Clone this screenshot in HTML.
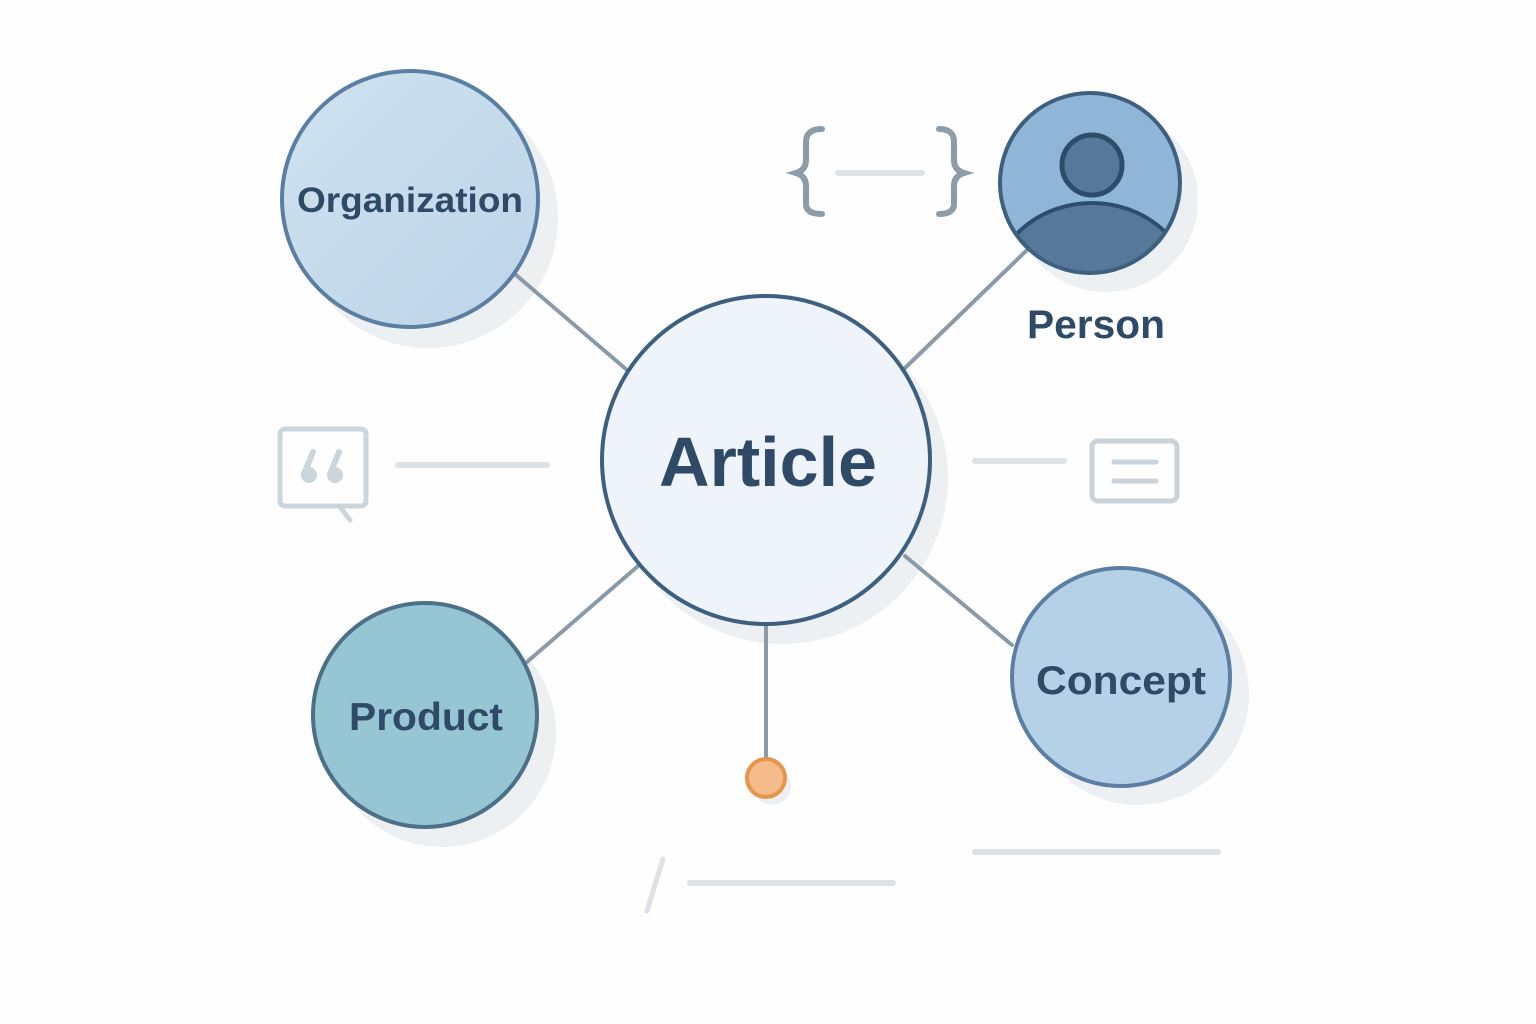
<!DOCTYPE html>
<html><head><meta charset="utf-8"><style>html,body{margin:0;padding:0;background:#fff}svg{display:block}</style></head>
<body>
<svg width="1536" height="1024" viewBox="0 0 1536 1024" xmlns="http://www.w3.org/2000/svg" font-family="Liberation Sans, sans-serif">
<rect width="1536" height="1024" fill="#fefefe"/>
<g fill="#e6e9ec" opacity="0.7">
<circle cx="428" cy="218" r="130"/>
<circle cx="1106" cy="200" r="92"/>
<circle cx="782" cy="478" r="166"/>
<circle cx="442" cy="733" r="114"/>
<circle cx="1138" cy="694" r="111"/>
<circle cx="772" cy="786" r="19"/>
</g>
<g stroke="#8a9aa9" stroke-width="4" stroke-linecap="round">
<line x1="516" y1="275" x2="627" y2="370"/>
<line x1="905" y1="368" x2="1027" y2="250"/>
<line x1="527" y1="662" x2="638" y2="566"/>
<line x1="905" y1="556" x2="1012" y2="645"/>
<line x1="766" y1="625" x2="766" y2="760"/>
</g>
<g stroke="#dde2e6" stroke-width="6" stroke-linecap="round" fill="none">
<line x1="398" y1="465" x2="547" y2="465"/>
<line x1="975" y1="461" x2="1064" y2="461"/>
<line x1="975" y1="852" x2="1218" y2="852"/>
<line x1="690" y1="883" x2="893" y2="883"/>
<line x1="647" y1="911" x2="663" y2="859" stroke-width="5"/>
<line x1="838" y1="173" x2="922" y2="173"/>
</g>
<g stroke="#8b9caa" stroke-width="6" fill="none" stroke-linecap="round">
<path d="M822 129 Q806 129 806 142 L806 160 Q806 170 796 173 Q806 176 806 186 L806 204 Q806 214 822 214"/>
<path d="M939 129 Q954 129 954 142 L954 160 Q954 170 964 173 Q954 176 954 186 L954 204 Q954 214 939 214"/>
</g>
<g stroke="#cbd5dc" stroke-width="5" fill="none" stroke-linecap="round">
<rect x="280" y="429" width="86" height="77" rx="5"/>
<line x1="340" y1="507" x2="350" y2="520"/>
</g>
<g fill="#cbd5dc">
<circle cx="309" cy="475" r="8"/><circle cx="335" cy="475" r="8"/>
</g>
<g stroke="#cbd5dc" stroke-width="6" stroke-linecap="round">
<line x1="304" y1="474" x2="313" y2="452"/><line x1="330" y1="474" x2="339" y2="452"/>
</g>
<g stroke="#cbd3da" stroke-width="5" fill="none" stroke-linecap="round">
<rect x="1092" y="441" width="85" height="60" rx="6"/>
<line x1="1114" y1="462" x2="1156" y2="462"/>
<line x1="1114" y1="481" x2="1156" y2="481"/>
</g>
<defs>
<linearGradient id="g1" x1="0" y1="0" x2="1" y2="1"><stop offset="0" stop-color="#cfe2ef"/><stop offset="1" stop-color="#bcd5e9"/></linearGradient>
<clipPath id="pc"><circle cx="1090" cy="183" r="90"/></clipPath>
</defs>
<circle cx="410" cy="199" r="128" fill="url(#g1)" stroke="#5a7fa3" stroke-width="4"/>
<circle cx="766" cy="460" r="164" fill="#eef4f9" stroke="#3d5f80" stroke-width="4"/>
<circle cx="425" cy="715" r="112" fill="#96c5d4" stroke="#4d7089" stroke-width="4"/>
<circle cx="1121" cy="677" r="109" fill="#b5d1e7" stroke="#5a7fa3" stroke-width="4"/>
<circle cx="766" cy="778" r="19" fill="#f6bb8b" stroke="#e6954d" stroke-width="4"/>
<circle cx="1090" cy="183" r="90" fill="#8fb6d6"/>
<g clip-path="url(#pc)">
<ellipse cx="1092" cy="294" rx="100" ry="91" fill="#56799a" stroke="#2e4d6a" stroke-width="4"/>
</g>
<circle cx="1092" cy="165" r="30" fill="#56799a" stroke="#2e4d6a" stroke-width="5"/>
<circle cx="1090" cy="183" r="90" fill="none" stroke="#3d5f80" stroke-width="4"/>
<g fill="#2e4a66" text-anchor="middle" font-weight="bold">
<text x="410" y="212" font-size="35" textLength="226" lengthAdjust="spacingAndGlyphs">Organization</text>
<text x="1096" y="338" font-size="40" textLength="138" lengthAdjust="spacingAndGlyphs">Person</text>
<text x="768" y="486" font-size="70" textLength="218" lengthAdjust="spacingAndGlyphs">Article</text>
<text x="426" y="730" font-size="39" textLength="154" lengthAdjust="spacingAndGlyphs">Product</text>
<text x="1121" y="694" font-size="40" textLength="170" lengthAdjust="spacingAndGlyphs">Concept</text>
</g>
</svg>
</body></html>
